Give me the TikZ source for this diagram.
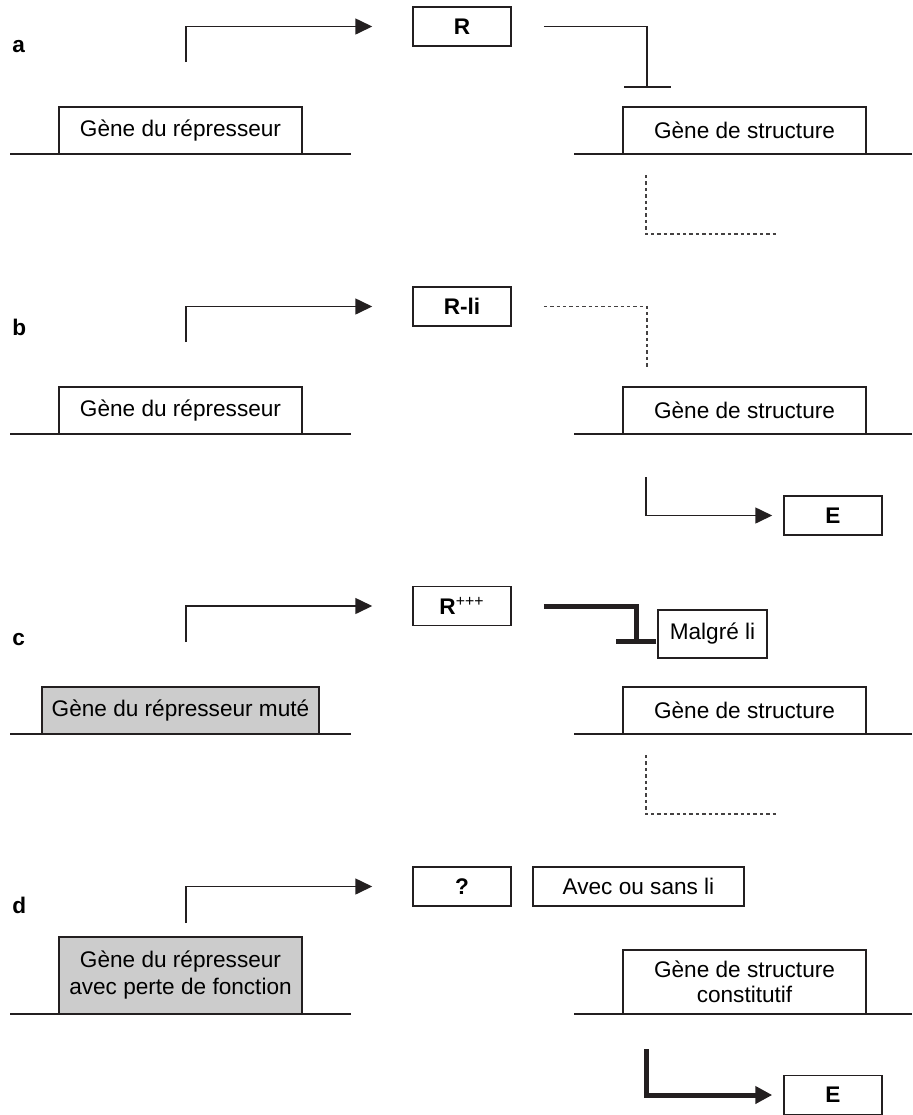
\documentclass[tikz,border=0pt]{standalone}
\usepackage{fontspec}
\setmainfont{Liberation Sans}
\usetikzlibrary{arrows.meta}
\definecolor{ink}{RGB}{35,31,32}
\definecolor{mutgray}{RGB}{204,204,204}
\begin{document}
\begin{tikzpicture}[x=0.5pt,y=-0.5pt,
  box/.style={draw=ink,line width=0.75pt,fill=white,inner sep=0pt,align=center,
    font=\fontsize{11.3}{13}\selectfont},
  genebox/.style={box,minimum width=121.5pt,minimum height=23.5pt},
  mutbox/.style={genebox,fill=mutgray},
  protbox/.style={box,minimum width=49pt,minimum height=19.5pt,
    font=\fontsize{11.3}{13}\selectfont\bfseries},
  lbl/.style={anchor=west,inner sep=0pt,font=\fontsize{11.3}{13}\selectfont\bfseries},
  dna/.style={draw=ink,line width=0.75pt},
  act/.style={draw=ink,line width=0.8pt,-{Triangle[length=8.5pt,width=8pt]}},
  thickact/.style={draw=ink,line width=2.5pt,-{Triangle[length=8.5pt,width=8.5pt]}},
  rep/.style={draw=ink,line width=0.8pt,-{Bar[width=23.5pt]}},
  thickrep/.style={draw=ink,line width=2.5pt,-{Bar[width=20pt]}},
  dots/.style={draw=ink!85,line width=0.7pt,dash pattern=on 1.7pt off 1.5pt},
]
\useasboundingbox (0,0) rectangle (912,1115);

% ---------------- panel a ----------------
\node[lbl] (la) at (12,47) {a};
\coordinate (pa) at (186,62);
\node[protbox] (ra) at (462,26.5) {R};
\coordinate (ab) at (647,88);
\coordinate (a0l) at (10,154);  \coordinate (a0r) at (351,154);
\coordinate (a1l) at (574,154); \coordinate (a1r) at (912,154);
\draw[dna] (a0l) -- (a0r);
\draw[dna] (a1l) -- (a1r);
\node[genebox] (ga) at (180.5,130.5) {Gène du répresseur};
\node[genebox] (sa) at (744.5,130.5) {Gène de structure};
\draw[act,shorten >=20pt] (pa) |- (ra);
\draw[rep,shorten <=16pt] (ra.east) -| (ab);
\coordinate (ad1) at (646,175); \coordinate (ad2) at (777,234);
\draw[dots] (ad1) |- (ad2);

% ---------------- panel b ----------------
\node[lbl] (lb) at (12,327) {b};
\coordinate (pb) at (186,342);
\node[protbox] (rb) at (462,306.5) {R-li};
\coordinate (bb) at (647,368);
\coordinate (b0l) at (10,434);  \coordinate (b0r) at (351,434);
\coordinate (b1l) at (574,434); \coordinate (b1r) at (912,434);
\draw[dna] (b0l) -- (b0r);
\draw[dna] (b1l) -- (b1r);
\node[genebox] (gb) at (180.5,410.5) {Gène du répresseur};
\node[genebox] (sb) at (744.5,410.5) {Gène de structure};
\draw[act,shorten >=20pt] (pb) |- (rb);
\draw[dots,shorten <=16pt] (rb.east) -| (bb);
\coordinate (bs) at (646,477);
\node[protbox] (eb) at (833,515.5) {E};
\draw[act,shorten >=5.5pt] (bs) |- (eb);

% ---------------- panel c ----------------
\node[lbl] (lc) at (12,640) {c};
\coordinate (pc) at (186,642);
\node[protbox] (rc) at (462,606) {R\textsuperscript{\mdseries +++}};
\coordinate (cb) at (636,644);
\node[box,minimum width=54.5pt,minimum height=24pt] (mc) at (712.5,634) {Malgré li};
\coordinate (c0l) at (10,734);  \coordinate (c0r) at (351,734);
\coordinate (c1l) at (574,734); \coordinate (c1r) at (912,734);
\draw[dna] (c0l) -- (c0r);
\draw[dna] (c1l) -- (c1r);
\node[mutbox,minimum width=138.5pt] (gc) at (180.5,710.5) {Gène du répresseur muté};
\node[genebox] (sc) at (744.5,710.5) {Gène de structure};
\draw[act,shorten >=20pt] (pc) |- (rc);
\draw[thickrep,shorten <=16pt] (rc.east) -| (cb);
\coordinate (cd1) at (646,755); \coordinate (cd2) at (777,814);
\draw[dots] (cd1) |- (cd2);

% ---------------- panel d ----------------
\node[lbl] (ld) at (12,905) {d};
\coordinate (pd) at (186,923);
\node[protbox] (rd) at (462,886.5) {?};
\node[box,minimum width=105.5pt,minimum height=19.5pt] (ad) at (638.5,886.5) {Avec ou sans li};
\coordinate (d0l) at (10,1014);  \coordinate (d0r) at (351,1014);
\coordinate (d1l) at (574,1014); \coordinate (d1r) at (912,1014);
\draw[dna] (d0l) -- (d0r);
\draw[dna] (d1l) -- (d1r);
\node[mutbox,minimum height=38.5pt,font=\fontsize{11.3}{13.5}\selectfont] (gd) at (180.5,975.5) {Gène du répresseur\\avec perte de fonction};
\node[genebox,minimum height=32pt,font=\fontsize{11.3}{12.5}\selectfont] (sd) at (744.5,982) {Gène de structure\\constitutif};
\draw[act,shorten >=20pt] (pd) |- (rd);
\coordinate (ds) at (646,1049);
\node[protbox] (ed) at (833,1095) {E};
\draw[thickact,shorten >=5.5pt] (ds) |- (ed);
\end{tikzpicture}
\end{document}
